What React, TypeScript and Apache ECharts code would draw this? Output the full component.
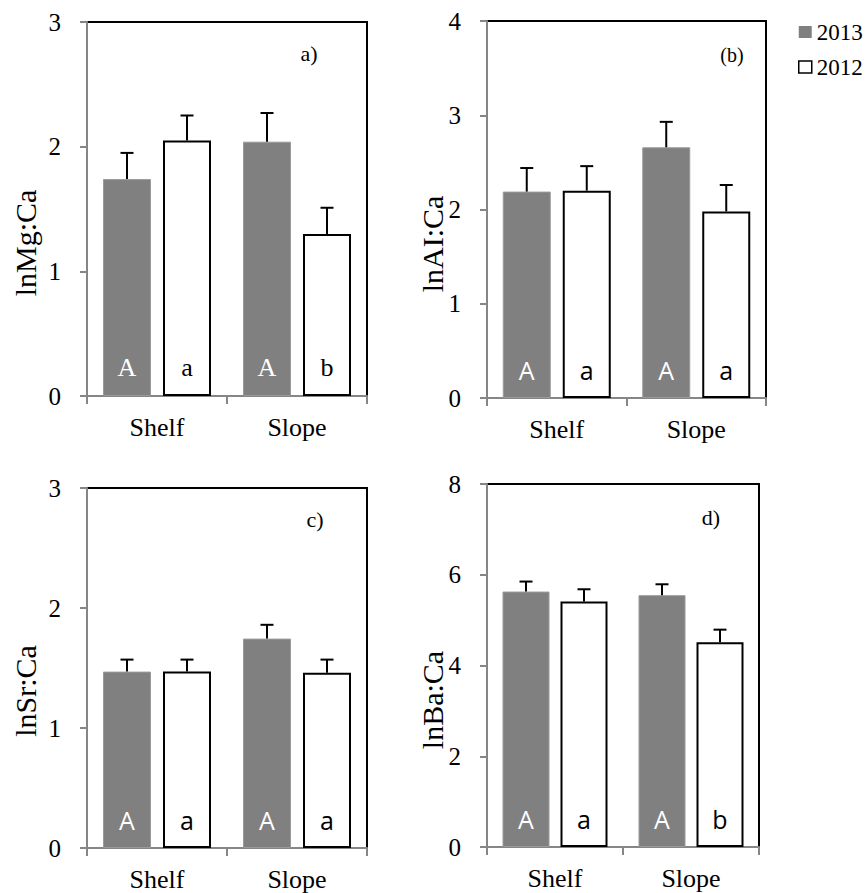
import React, { useEffect, useRef } from "react";
import * as echarts from "echarts";

const categories = ["Shelf", "Slope"];
const years = ["2013", "2012"];

const mg2013 = [1.74, 2.04];
const mgErr2013 = [0.21, 0.23];
const mg2012 = [2.05, 1.3];
const mgErr2012 = [0.2, 0.21];
const mgLetters2013 = ["A", "A"];
const mgLetters2012 = ["a", "b"];

const al2013 = [2.19, 2.66];
const alErr2013 = [0.25, 0.27];
const al2012 = [2.2, 1.98];
const alErr2012 = [0.26, 0.28];
const alLetters2013 = ["A", "A"];
const alLetters2012 = ["a", "a"];

const sr2013 = [1.47, 1.745];
const srErr2013 = [0.1, 0.115];
const sr2012 = [1.47, 1.46];
const srErr2012 = [0.1, 0.11];
const srLetters2013 = ["A", "A"];
const srLetters2012 = ["a", "a"];

const ba2013 = [5.63, 5.55];
const baErr2013 = [0.22, 0.24];
const ba2012 = [5.41, 4.51];
const baErr2012 = [0.27, 0.28];
const baLetters2013 = ["A", "A"];
const baLetters2012 = ["a", "b"];

const yTitles = ["lnMg:Ca", "lnAI:Ca", "lnSr:Ca", "lnBa:Ca"];
const panelTags = ["a)", "(b)", "c)", "d)"];
const yMax = [3, 4, 3, 8];
const yStep = [1, 1, 1, 2];

const SERIF = "'Liberation Serif', 'Times New Roman', serif";
const SANS = "'Open Sans', 'Liberation Sans', sans-serif";

const panels = [
  {
    grid: { left: 87, top: 22, width: 280, height: 374 },
    bw: 48, gap: 12, letterFont: SERIF, letterSize: 26,
    title: { x: 25, y: 243 }, tag: { x: 309, y: 53, size: 22 },
    d2013: mg2013, e2013: mgErr2013, d2012: mg2012, e2012: mgErr2012,
    l2013: mgLetters2013, l2012: mgLetters2012,
  },
  {
    grid: { left: 487, top: 21, width: 279, height: 377 },
    bw: 48, gap: 12, letterFont: SANS, letterSize: 25,
    title: { x: 432, y: 244 }, tag: { x: 732, y: 55, size: 20 },
    d2013: al2013, e2013: alErr2013, d2012: al2012, e2012: alErr2012,
    l2013: alLetters2013, l2012: alLetters2012,
  },
  {
    grid: { left: 87, top: 488, width: 280, height: 360 },
    bw: 48, gap: 12, letterFont: SANS, letterSize: 25,
    title: { x: 25, y: 691 }, tag: { x: 315, y: 519, size: 22 },
    d2013: sr2013, e2013: srErr2013, d2012: sr2012, e2012: srErr2012,
    l2013: srLetters2013, l2012: srLetters2012,
  },
  {
    grid: { left: 487, top: 484, width: 272, height: 363 },
    bw: 47, gap: 11, letterFont: SANS, letterSize: 25,
    title: { x: 432, y: 700 }, tag: { x: 711, y: 517, size: 22 },
    d2013: ba2013, e2013: baErr2013, d2012: ba2012, e2012: baErr2012,
    l2013: baLetters2013, l2012: baLetters2012,
  },
];

const GRAY_AXIS = "#868686";

function errSeries(idx: number, vals: number[], errs: number[], offset: number) {
  return {
    type: "custom",
    xAxisIndex: idx,
    yAxisIndex: idx,
    z: 5,
    silent: true,
    encode: { x: 0, y: 1 },
    data: vals.map((v, i) => [i, v, errs[i]]),
    renderItem: (params: any, api: any) => {
      const x = api.value(0);
      const v = api.value(1);
      const e = api.value(2);
      const p0 = api.coord([x, v]);
      const p1 = api.coord([x, v + e]);
      const cx = p0[0] + offset;
      return {
        type: "group",
        children: [
          { type: "line", shape: { x1: cx, y1: p0[1], x2: cx, y2: p1[1] }, style: { stroke: "#000", lineWidth: 2 } },
          { type: "line", shape: { x1: cx - 6.5, y1: p1[1], x2: cx + 6.5, y2: p1[1] }, style: { stroke: "#000", lineWidth: 2 } },
        ],
      };
    },
  };
}

export default function App() {
  const ref = useRef<HTMLDivElement>(null);
  useEffect(() => {
    if (!ref.current) return;
    const chart = echarts.init(ref.current, null, { renderer: "svg" });
    const grids: any[] = [];
    const xAxes: any[] = [];
    const yAxes: any[] = [];
    const series: any[] = [];
    const graphics: any[] = [];
    panels.forEach((p, i) => {
      grids.push({ ...p.grid, show: true, borderColor: "#000", borderWidth: 2, backgroundColor: "transparent", containLabel: false });
      xAxes.push({
        type: "category", gridIndex: i, data: categories,
        axisLine: { lineStyle: { color: GRAY_AXIS, width: 2 } },
        axisTick: { show: true, length: 8, lineStyle: { color: GRAY_AXIS, width: 2 } },
        axisLabel: { fontSize: 26, fontFamily: SERIF, color: "#000", margin: 18 },
        splitLine: { show: false },
      });
      yAxes.push({
        type: "value", gridIndex: i, min: 0, max: yMax[i], interval: yStep[i],
        axisLine: { show: true, lineStyle: { color: GRAY_AXIS, width: 2 } },
        axisTick: { show: true, length: 7, lineStyle: { color: GRAY_AXIS, width: 2 } },
        axisLabel: { fontSize: 25, fontFamily: SERIF, color: "#000", margin: 26 },
        splitLine: { show: false },
      });
      const off = (p.bw + p.gap) / 2;
      series.push({
        type: "bar", name: years[0], xAxisIndex: i, yAxisIndex: i, data: p.d2013,
        barWidth: p.bw, barGap: (p.gap / p.bw) * 100 + "%",
        itemStyle: { color: "#808080", borderColor: "#9a9a9a", borderWidth: 1 },
        label: {
          show: true, position: "insideBottom", distance: 16, color: "#fff",
          fontSize: p.letterSize, fontFamily: p.letterFont,
          formatter: (q: any) => p.l2013[q.dataIndex],
        },
      });
      series.push({
        type: "bar", name: years[1], xAxisIndex: i, yAxisIndex: i, data: p.d2012,
        barWidth: p.bw, barGap: (p.gap / p.bw) * 100 + "%",
        itemStyle: { color: "#fff", borderColor: "#000", borderWidth: 2 },
        label: {
          show: true, position: "insideBottom", distance: 16, color: "#000",
          fontSize: p.letterSize, fontFamily: p.letterFont,
          formatter: (q: any) => p.l2012[q.dataIndex],
        },
      });
      series.push(errSeries(i, p.d2013, p.e2013, -off));
      series.push(errSeries(i, p.d2012, p.e2012, off));
      graphics.push({
        type: "text", x: p.title.x, y: p.title.y, rotation: Math.PI / 2,
        style: { text: yTitles[i], font: `30px ${SERIF}`, fill: "#000", textAlign: "center", textVerticalAlign: "middle" },
      });
      graphics.push({
        type: "text", x: p.tag.x, y: p.tag.y,
        style: { text: panelTags[i], font: `${p.tag.size}px ${SERIF}`, fill: "#000", textAlign: "center", textVerticalAlign: "middle" },
      });
    });
    chart.setOption({
      animation: false,
      backgroundColor: "#fff",
      grid: grids,
      xAxis: xAxes,
      yAxis: yAxes,
      series,
      graphic: graphics,
      legend: {
        orient: "vertical", left: 798, top: 20, padding: 0, itemWidth: 13, itemHeight: 12, itemGap: 11,
        icon: "rect", selectedMode: false,
        textStyle: { fontSize: 23, lineHeight: 24, fontFamily: SERIF, color: "#000" },
        data: [
          { name: years[0], itemStyle: { color: "#808080", borderWidth: 0 } },
          { name: years[1], itemStyle: { color: "#fff", borderColor: "#000", borderWidth: 1.5 } },
        ],
      },
    });
    return () => chart.dispose();
  }, []);
  return <div ref={ref} style={{ position: "fixed", left: 0, top: 0, width: 868, height: 893 }} />;
}
